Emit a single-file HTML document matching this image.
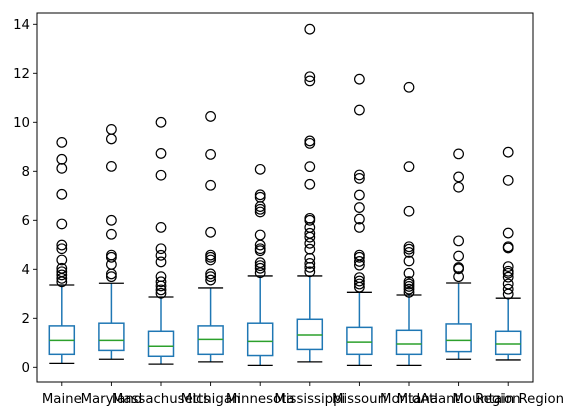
<!DOCTYPE html>
<html><head><meta charset="utf-8"><style>
html,body{margin:0;padding:0;background:#fff;}
svg{display:block;font-family:"DejaVu Sans","Liberation Sans",sans-serif;}
</style></head><body>
<svg id="chart" width="577" height="416" viewBox="0 0 577 416" xmlns="http://www.w3.org/2000/svg"></svg>
<script>
const categories = ["Maine","Maryland","Massachusetts","Michigan","Minnesota","Mississippi","Missouri","Montana","MidAtlantic Region","Mountain Region"];
const q1Values = [0.53,0.69,0.45,0.53,0.48,0.73,0.53,0.53,0.64,0.53];
const medianValues = [1.10,1.10,0.86,1.14,1.06,1.32,1.03,0.95,1.10,0.95];
const q3Values = [1.69,1.80,1.47,1.69,1.80,1.96,1.63,1.51,1.77,1.47];
const whiskerLow = [0.16,0.33,0.13,0.22,0.08,0.22,0.08,0.08,0.33,0.30];
const whiskerHigh = [3.36,3.43,2.87,3.24,3.73,3.73,3.06,2.95,3.44,2.82];
const outliers = [
 [9.18,8.49,8.12,7.06,5.85,4.99,4.84,4.38,4.04,3.90,3.77,3.63,3.49],
 [9.71,9.32,8.20,6.0,5.43,4.58,4.49,4.20,3.81,3.70],
 [10.0,8.73,7.84,5.71,4.84,4.57,4.30,3.70,3.49,3.32,3.16,3.02],
 [10.24,8.69,7.43,5.51,4.58,4.49,4.38,3.81,3.70,3.56],
 [8.08,7.04,6.94,6.56,6.45,6.34,5.40,4.99,4.84,4.76,4.27,4.15,4.04,3.86],
 [13.8,11.86,11.69,9.24,9.14,8.19,7.47,6.08,6.0,5.71,5.47,5.31,5.06,4.82,4.45,4.24,4.08,3.90],
 [11.76,10.5,7.85,7.71,7.03,6.52,6.05,5.71,4.58,4.49,4.32,4.17,3.66,3.52,3.40,3.27],
 [11.43,8.19,6.37,4.92,4.82,4.69,4.34,3.84,3.50,3.40,3.30,3.19,3.06],
 [8.71,7.77,7.35,5.16,4.54,4.07,4.02,3.70],
 [8.78,7.63,5.48,4.92,4.87,4.11,3.92,3.84,3.68,3.40,3.19,2.99]
];
const yTicks = [0,2,4,6,8,10,12,14];

const svg = document.getElementById('chart');
const NS = 'http://www.w3.org/2000/svg';
const L=37, R=533, T=13, B=382;
const y = v => 367.3 - 24.5*v;
const step = (R-L)/categories.length;
const x = i => L + (i+0.5)*step;
const bw = 25;
function mk(tag, attrs, parent){ const e=document.createElementNS(NS,tag); for(const k in attrs) e.setAttribute(k,attrs[k]); (parent||svg).appendChild(e); return e; }

categories.forEach((c,i)=>{
  const g = mk('g',{});
  
  
  const cx = x(i), blue='#1f77b4';
  mk('line',{x1:cx,x2:cx,y1:y(q1Values[i]),y2:y(whiskerLow[i]),stroke:blue,'stroke-width':1.5},g);
  mk('line',{x1:cx,x2:cx,y1:y(q3Values[i]),y2:y(whiskerHigh[i]),stroke:blue,'stroke-width':1.5},g);
  mk('line',{x1:cx-bw/2,x2:cx+bw/2,y1:y(whiskerLow[i]),y2:y(whiskerLow[i]),stroke:'#000','stroke-width':1.3},g);
  mk('line',{x1:cx-bw/2,x2:cx+bw/2,y1:y(whiskerHigh[i]),y2:y(whiskerHigh[i]),stroke:'#000','stroke-width':1.3},g);
  mk('rect',{x:cx-bw/2,y:y(q3Values[i]),width:bw,height:y(q1Values[i])-y(q3Values[i]),fill:'none',stroke:blue,'stroke-width':1.5},g);
  mk('line',{x1:cx-bw/2,x2:cx+bw/2,y1:y(medianValues[i]),y2:y(medianValues[i]),stroke:'#2ca02c','stroke-width':1.5},g);
  outliers[i].forEach(v=>{
    const o = mk('circle',{cx:cx,cy:y(v),r:4.8,fill:'none',stroke:'#000','stroke-width':1.2},g);
    
    
  });
  mk('line',{x1:cx,x2:cx,y1:B,y2:B+4,stroke:'#000','stroke-width':0.9});
  const t = mk('text',{x:cx,y:B+21,'text-anchor':'middle','font-size':13.3,fill:'#000'});
  t.textContent = c;
  
  
});
yTicks.forEach(v=>{
  mk('line',{x1:L-4,x2:L,y1:y(v),y2:y(v),stroke:'#000','stroke-width':0.9});
  const t = mk('text',{x:L-7,y:y(v)+4.7,'text-anchor':'end','font-size':13.3,fill:'#000'});
  t.textContent = v;
  
  
});
const frame = mk('rect',{x:L,y:T,width:R-L,height:B-T,fill:'none',stroke:'#000','stroke-width':1});


</script>
</body></html>
